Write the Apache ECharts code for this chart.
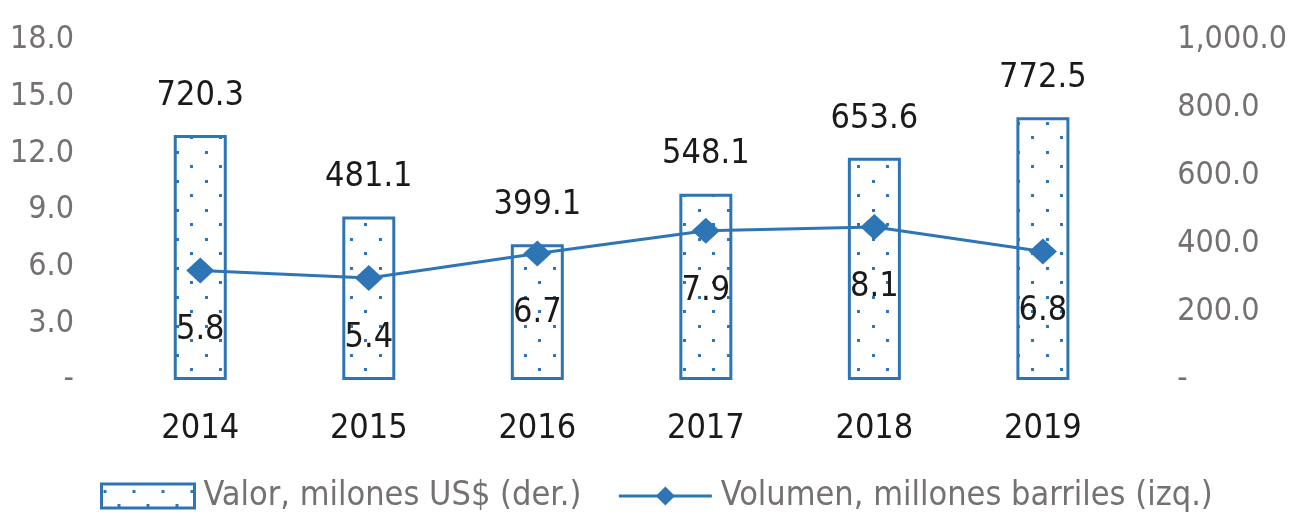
<!DOCTYPE html>
<html>
<head>
<meta charset="utf-8">
<script src="https://cdn.jsdelivr.net/npm/echarts@6/dist/echarts.min.js"></script>
<style>
  html, body { margin: 0; padding: 0; background: #fff; }
  #main { width: 1290px; height: 520px; }
</style>
</head>
<body>
<div id="main"></div>
<script>
// datos del grafico
var years = ['2014', '2015', '2016', '2017', '2018', '2019'];
var valor = [720.3, 481.1, 399.1, 548.1, 653.6, 772.5];
var volumen = [5.8, 5.4, 6.7, 7.9, 8.1, 6.8];
var nameValor = 'Valor, milones US$ (der.)';
var nameVolumen = 'Volumen, millones barriles (izq.)';

var FONT = '"Liberation Sans Narrow", "DejaVu Sans Condensed", "Roboto", sans-serif';
var BLUE = '#2e75b6';

// patron de puntos para las barras
function dotPattern() {
  var c = document.createElement('canvas');
  c.width = 29;
  c.height = 29;
  var ctx = c.getContext('2d');
  ctx.fillStyle = '#fff';
  ctx.fillRect(0, 0, 29, 29);
  ctx.fillStyle = BLUE;
  ctx.fillRect(2, 6, 3, 3);
  ctx.fillRect(16, 20, 3, 3);
  return c;
}

function fmt(v, sep) {
  if (v === 0) return '-';
  var s = v.toFixed(1);
  if (sep) s = s.replace(/\B(?=(\d{3})+(?!\d))/g, ',');
  return s;
}

var chart = echarts.init(document.getElementById('main'), null, { renderer: 'canvas' });
var option = {
  animation: false,
  textStyle: { fontFamily: FONT },
  grid: { left: 116, right: 160, top: 40, bottom: 140 },
  legend: {
    bottom: 2,
    left: 95,
    itemGap: 36,
    itemWidth: 93,
    itemHeight: 24,
    textStyle: { fontFamily: FONT, fontSize: 34, color: '#767171', padding: [0, 0, 0, 4] },
    data: [
      { name: nameValor, icon: 'rect', itemStyle: { borderWidth: 3, borderColor: BLUE } },
      { name: nameVolumen, lineStyle: { width: 3 } }
    ]
  },
  xAxis: {
    type: 'category',
    data: years,
    axisLine: { show: false },
    axisTick: { show: false },
    axisLabel: { fontFamily: FONT, fontSize: 34, color: '#1a1a1a', margin: 32 }
  },
  yAxis: [{
    type: 'value',
    min: 0,
    max: 18,
    interval: 3,
    splitLine: { show: false },
    axisLabel: {
      fontFamily: FONT, fontSize: 32, color: '#767171', margin: 42,
      formatter: function (v) { return fmt(v, false); }
    }
  }, {
    type: 'value',
    min: 0,
    max: 1000,
    interval: 200,
    splitLine: { show: false },
    axisLabel: {
      fontFamily: FONT, fontSize: 32, color: '#767171', margin: 50,
      formatter: function (v) { return fmt(v, true); }
    }
  }],
  series: [{
    name: nameValor,
    type: 'bar',
    yAxisIndex: 1,
    data: valor,
    barWidth: 53,
    itemStyle: {
      color: { image: dotPattern(), repeat: 'repeat' },
      borderColor: BLUE,
      borderWidth: 3
    },
    label: {
      show: true,
      position: 'top',
      distance: 22,
      fontFamily: FONT,
      fontSize: 34,
      color: '#1a1a1a',
      formatter: function (p) { return p.value.toFixed(1); }
    }
  }, {
    name: nameVolumen,
    type: 'line',
    yAxisIndex: 0,
    data: volumen,
    symbol: 'diamond',
    symbolSize: [28, 26],
    lineStyle: { color: BLUE, width: 3 },
    itemStyle: { color: BLUE },
    label: {
      show: true,
      position: 'bottom',
      distance: 30,
      fontFamily: FONT,
      fontSize: 34,
      color: '#1a1a1a',
      formatter: function (p) { return p.value.toFixed(1); }
    }
  }]
};
chart.setOption(option);
</script>
</body>
</html>
